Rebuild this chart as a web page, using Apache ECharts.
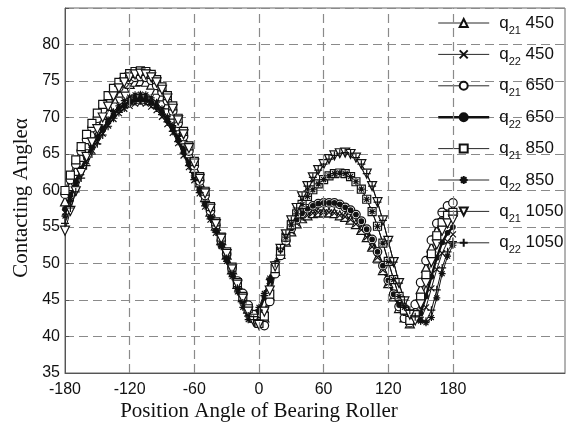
<!DOCTYPE html>
<html>
<head>
<meta charset="utf-8">
<script src="https://cdn.jsdelivr.net/npm/echarts@6/dist/echarts.min.js"></script>
<style>
  html, body { margin: 0; padding: 0; background: #fff; }
  #chart { width: 571px; height: 428px; }
</style>
</head>
<body>
<div id="chart"></div>
<script>
// Roller position angle (degrees)
const angles = [-180,-175,-170,-165,-160,-155,-150,-145,-140,-135,-130,-125,-120,-115,-110,
  -105,-100,-95,-90,-85,-80,-75,-70,-65,-60,-55,-50,-45,-40,-35,-30,-25,-20,
  -15,-10,-5,0,5,10,
  15,20,25,30,35,40,45,50,55,60,65,70,75,80,85,90,95,100,105,110,115,120,125,130,135,
  140,145,150,155,160,165,170,175,180];

// Contact angle for each load case
const q21_450 = [58.5,60.6,62.7,64.6,66.2,67.8,69.2,70.4,71.6,72.6,73.4,74.1,74.6,74.9,75.0,
  74.9,74.5,73.8,72.9,71.8,70.4,68.8,67.0,65.1,63.1,61.1,59.1,57.1,55.2,53.2,51.2,49.2,47.2,
  45.4,43.8,42.6,42.0,42.6,45.6,
  49.0,51.3,53.0,54.4,55.5,56.2,56.6,56.9,57.0,57.0,57.0,56.9,56.6,56.4,56.0,55.4,54.6,53.6,52.3,50.8,49.1,47.3,45.5,43.9,42.6,
  41.8,43.6,46.5,49.4,52.2,54.5,56.0,57.0,57.5];
const q22_450 = [57.0,58.9,60.8,62.5,64.0,65.5,66.7,67.8,68.9,69.8,70.6,71.2,71.6,71.9,72.0,
  71.9,71.5,71.0,70.1,69.1,67.9,66.5,64.8,63.2,61.4,59.6,57.8,56.0,54.2,52.5,50.7,48.7,46.7,
  44.8,43.2,42.3,43.3,45.3,47.6,
  49.6,51.5,53.0,54.4,55.5,56.2,56.6,56.9,57.0,57.0,57.0,56.9,56.6,56.4,56.0,55.4,54.6,53.6,52.3,50.8,49.1,47.3,45.5,44.2,43.3,
  42.8,42.4,42.3,44.0,46.6,49.2,51.4,53.0,54.0];
const q21_650 = [59.5,61.5,63.6,65.4,67.0,68.6,69.9,71.1,72.2,73.3,74.1,74.7,75.2,75.5,75.6,
  75.5,75.1,74.4,73.5,72.3,70.9,69.2,67.4,65.4,63.4,61.3,59.3,57.2,55.2,53.1,51.3,49.4,47.6,
  45.9,44.3,43.0,42.0,41.5,44.8,
  48.6,51.1,53.1,54.8,56.0,56.9,57.5,57.9,58.2,58.3,58.3,58.3,58.1,57.7,57.3,56.7,55.8,54.7,53.3,51.6,49.7,47.7,45.8,44.1,42.5,
  41.9,44.4,47.4,50.4,53.2,55.5,57.0,57.9,58.3];
const q22_650 = [57.5,59.4,61.3,63.0,64.6,66.0,67.3,68.4,69.4,70.4,71.2,71.7,72.2,72.5,72.6,
  72.5,72.1,71.5,70.7,69.6,68.4,66.9,65.3,63.6,61.8,59.9,58.1,56.3,54.5,52.7,50.8,48.8,46.8,
  44.9,43.2,42.3,43.4,45.4,47.7,
  49.7,51.6,53.3,54.8,56.0,56.9,57.5,57.9,58.2,58.3,58.3,58.3,58.1,57.7,57.3,56.7,55.8,54.7,53.3,51.6,49.7,47.7,45.8,44.3,43.2,
  42.6,42.3,43.2,45.5,48.2,50.8,52.9,54.2,55.0];
const q21_850 = [60.0,62.1,64.2,66.0,67.7,69.2,70.6,71.8,73.0,74.0,74.8,75.5,76.0,76.3,76.4,
  76.3,75.9,75.2,74.2,73.0,71.6,69.9,68.1,66.1,64.0,61.9,59.9,57.8,55.7,53.6,51.6,49.5,47.4,
  45.5,43.8,42.5,41.8,42.8,45.8,
  49.3,51.7,53.6,55.3,56.8,58.1,59.2,60.1,60.9,61.5,62.0,62.3,62.4,62.3,61.9,61.2,60.2,58.8,57.1,55.1,52.8,50.3,47.8,45.5,43.6,
  42.2,43.0,45.4,48.4,51.3,53.8,55.6,56.6,57.0];
const q22_850 = [56.5,58.6,60.7,62.6,64.3,65.9,67.3,68.6,69.7,70.8,71.6,72.3,72.8,73.1,73.2,
  73.1,72.7,72.1,71.2,70.1,68.9,67.4,65.7,63.9,62.0,60.2,58.3,56.4,54.5,52.3,50.3,48.2,46.1,
  44.0,42.3,42.4,44.0,45.9,48.0,
  50.0,51.9,53.6,55.3,56.8,58.1,59.2,60.1,60.9,61.5,62.0,62.3,62.4,62.3,61.9,61.2,60.2,58.8,57.1,55.1,52.8,50.3,47.8,45.5,44.0,
  43.1,42.5,42.1,41.9,42.6,45.3,48.6,51.0,52.5];
const q21_1050 = [54.5,57.2,59.9,62.4,64.6,66.6,68.4,70.0,71.5,72.9,74.0,74.8,75.5,75.9,76.0,
  75.9,75.5,74.8,73.8,72.6,71.2,69.6,67.7,65.8,63.7,61.6,59.6,57.5,55.4,53.4,51.3,49.2,47.1,
  45.2,43.4,42.1,41.6,43.4,46.3,
  49.6,52.0,54.0,55.9,57.6,59.2,60.6,61.8,62.8,63.6,64.3,64.8,65.1,65.2,65.0,64.5,63.6,62.3,60.6,58.4,55.9,53.1,50.2,47.3,44.8,
  43.0,42.2,44.4,47.3,50.2,52.6,54.5,55.5,56.0];
const q22_1050 = [55.5,57.6,59.8,61.7,63.4,65.0,66.4,67.6,68.8,69.9,70.7,71.3,71.9,72.2,72.3,
  72.2,71.8,71.3,70.4,69.4,68.1,66.7,65.1,63.4,61.5,59.7,57.9,56.1,54.3,52.5,50.7,48.6,46.6,
  44.6,42.8,42.3,43.6,45.6,47.8,
  50.0,52.1,54.0,55.9,57.6,59.2,60.6,61.8,62.8,63.6,64.3,64.8,65.1,65.2,65.0,64.5,63.6,62.3,60.6,58.4,55.9,53.1,50.2,47.3,45.0,
  43.6,42.7,42.2,42.1,43.6,46.4,49.4,51.6,53.0];

// Axis ticks
const xTickValues = [-180, -120, -60, 0, 60, 120, 180];
const xGridValues = [-120, -60, 0, 60, 120, 180];
const yTickValues = [35, 40, 45, 50, 55, 60, 65, 70, 75, 80];

const seriesNames = ['q21 450', 'q22 450', 'q21 650', 'q22 650', 'q21 850', 'q22 850', 'q21 1050', 'q22 1050'];
const seriesValues = [q21_450, q22_450, q21_650, q22_650, q21_850, q22_850, q21_1050, q22_1050];

const INK = '#111';
const GRID = '#8a8a8a';
const DASH = [9, 5];

// Marker shape per series
const markerStyles = [
  { symbol: 'triangle', size: 9 },
  { symbol: 'path://M0,0L10,10M10,0L0,10', size: 6 },
  { symbol: 'circle', size: 8.5 },
  { symbol: 'circle', size: 4.5, filled: true, bold: true },
  { symbol: 'rect', size: 8 },
  { symbol: 'path://M5,0L5,10M0,5L10,5M1.5,1.5L8.5,8.5M8.5,1.5L1.5,8.5', size: 7 },
  { symbol: 'path://M0,0L10,0L5,10Z', size: 9 },
  { symbol: 'path://M5,0L5,10M0,5L10,5', size: 8 }
];

const chart = echarts.init(document.getElementById('chart'), null, { renderer: 'canvas' });

const series = [{
  // vertical dashed grid lines
  type: 'line',
  name: '_grid',
  data: [],
  silent: true,
  z: 1,
  markLine: {
    silent: true,
    symbol: 'none',
    label: { show: false },
    animation: false,
    lineStyle: { type: DASH, color: GRID, width: 1.2 },
    data: xGridValues.map(v => ({ xAxis: v }))
  }
}];

seriesNames.forEach((name, i) => {
  const m = markerStyles[i];
  series.push({
    type: 'line',
    name: name,
    data: angles.map((a, k) => [a, seriesValues[i][k]]),
    symbol: m.symbol,
    symbolSize: m.size,
    showAllSymbol: true,
    z: 3,
    lineStyle: { color: INK, width: m.bold ? 2.4 : 1.0 },
    itemStyle: { color: m.filled ? INK : '#fff', borderColor: INK, borderWidth: 1.2 },
    emphasis: { disabled: true },
    animation: false
  });
});

chart.setOption({
  animation: false,
  backgroundColor: '#fff',
  grid: { left: 65, right: 6, top: 8, bottom: 55, show: true, borderColor: '#666', borderWidth: 1 },
  xAxis: {
    type: 'value',
    min: -180,
    max: 284,
    interval: 60,
    axisLine: { show: true, onZero: false, lineStyle: { color: '#555', width: 1 } },
    axisTick: { show: true, inside: true, length: 4, customValues: xTickValues, lineStyle: { color: '#555' } },
    axisLabel: {
      customValues: xTickValues,
      formatter: v => (v > 180 ? '' : String(v)),
      color: INK, fontSize: 16, fontFamily: 'Liberation Sans', margin: 9
    },
    splitLine: { show: false }
  },
  yAxis: {
    type: 'value',
    min: 35,
    max: 85,
    interval: 5,
    axisLine: { show: true, onZero: false, lineStyle: { color: '#555', width: 1 } },
    axisTick: { show: true, inside: true, length: 4, lineStyle: { color: '#555' } },
    axisLabel: {
      customValues: yTickValues,
      formatter: v => (v > 80 ? '' : String(v)),
      color: INK, fontSize: 16, fontFamily: 'Liberation Sans', margin: 5
    },
    splitLine: { show: true, lineStyle: { type: DASH, color: GRID, width: 1.2 } }
  },
  legend: {
    data: seriesNames.map((n, i) => ({
      name: n,
      lineStyle: { width: markerStyles[i].bold ? 2.4 : 0.9 }
    })),
    orient: 'vertical',
    left: 437,
    top: 14.5,
    padding: 0,
    itemWidth: 51,
    itemHeight: 10,
    itemGap: 9.9,
    selectedMode: false,
    formatter: n => {
      const parts = n.split(' ');
      return '{q|q}{s|' + parts[0].slice(1) + '}{n| ' + parts[1] + '}';
    },
    textStyle: {
      color: INK,
      fontFamily: 'Liberation Sans',
      rich: {
        q: { fontSize: 17, lineHeight: 26, padding: [0, 0, 0, 5] },
        s: { fontSize: 11, lineHeight: 8, verticalAlign: 'bottom' },
        n: { fontSize: 17, lineHeight: 26 }
      }
    }
  },
  graphic: [
    {
      type: 'text',
      x: 259, y: 411,
      silent: true,
      style: { text: 'Position Angle of Bearing Roller', font: '21px "Liberation Serif"', fill: INK, align: 'center', verticalAlign: 'middle' }
    },
    {
      type: 'text',
      x: 21, y: 198,
      rotation: Math.PI / 2,
      silent: true,
      style: { text: 'Contacting Angleα', font: '21px "Liberation Serif"', fill: INK, align: 'center', verticalAlign: 'middle' }
    }
  ],
  series: series
});
</script>
</body>
</html>
